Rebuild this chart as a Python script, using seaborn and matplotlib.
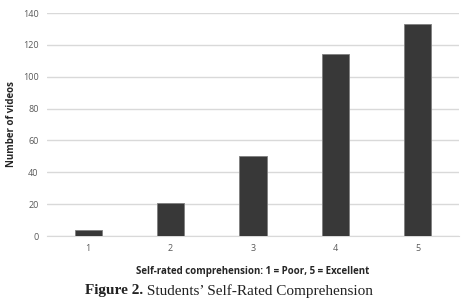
import seaborn as sns
import matplotlib.pyplot as plt
import pandas as pd

ratings = ["1", "2", "3", "4", "5"]
videos = [4, 21, 50, 114, 133]

df = pd.DataFrame({"rating": ratings, "videos": videos})

sns.set_style("white")
plt.rcParams["font.family"] = ["Open Sans", "DejaVu Sans"]

fig = plt.figure(figsize=(4.73, 3.05), dpi=100)
ax = fig.add_axes([0.0994, 0.2262, 0.8706, 0.7311])

sns.barplot(x="rating", y="videos", data=df, color="#383838", width=0.33,
            edgecolor="#7f7f7f", linewidth=0.6, saturation=1, ax=ax, zorder=3)

ax.set_ylim(0, 140)
ax.set_yticks(range(0, 141, 20))
ax.set_xlim(-0.5, 4.5)
ax.yaxis.grid(True, color="#d9d9d9", linewidth=1, zorder=0)
ax.set_axisbelow(True)
for side in ["top", "right", "left"]:
    ax.spines[side].set_visible(False)
ax.spines["bottom"].set_color("#d9d9d9")
ax.tick_params(axis="both", length=0, labelsize=6.5, colors="#595959", pad=6)

ax.set_xlabel("Self-rated comprehension: 1 = Poor, 5 = Excellent",
              fontsize=7, fontweight="bold", labelpad=9)
ax.set_ylabel("Number of videos", fontsize=7, fontweight="bold", labelpad=4)

# caption: bold "Figure 2." followed by regular text, centred as a whole
renderer = fig.canvas.get_renderer()
t1 = fig.text(0, 0.046, "Figure 2.", ha="left", va="center", fontsize=11,
              fontweight="bold", family="Liberation Serif", color="#222222")
t2 = fig.text(0, 0.046, " Students\u2019 Self-Rated Comprehension", ha="left",
              va="center", fontsize=11, family="Liberation Serif", color="#222222")
w1 = t1.get_window_extent(renderer).width / fig.bbox.width
w2 = t2.get_window_extent(renderer).width / fig.bbox.width
x0 = 0.484 - (w1 + w2) / 2
t1.set_x(x0)
t2.set_x(x0 + w1)

fig.savefig("out.png", dpi=100)
